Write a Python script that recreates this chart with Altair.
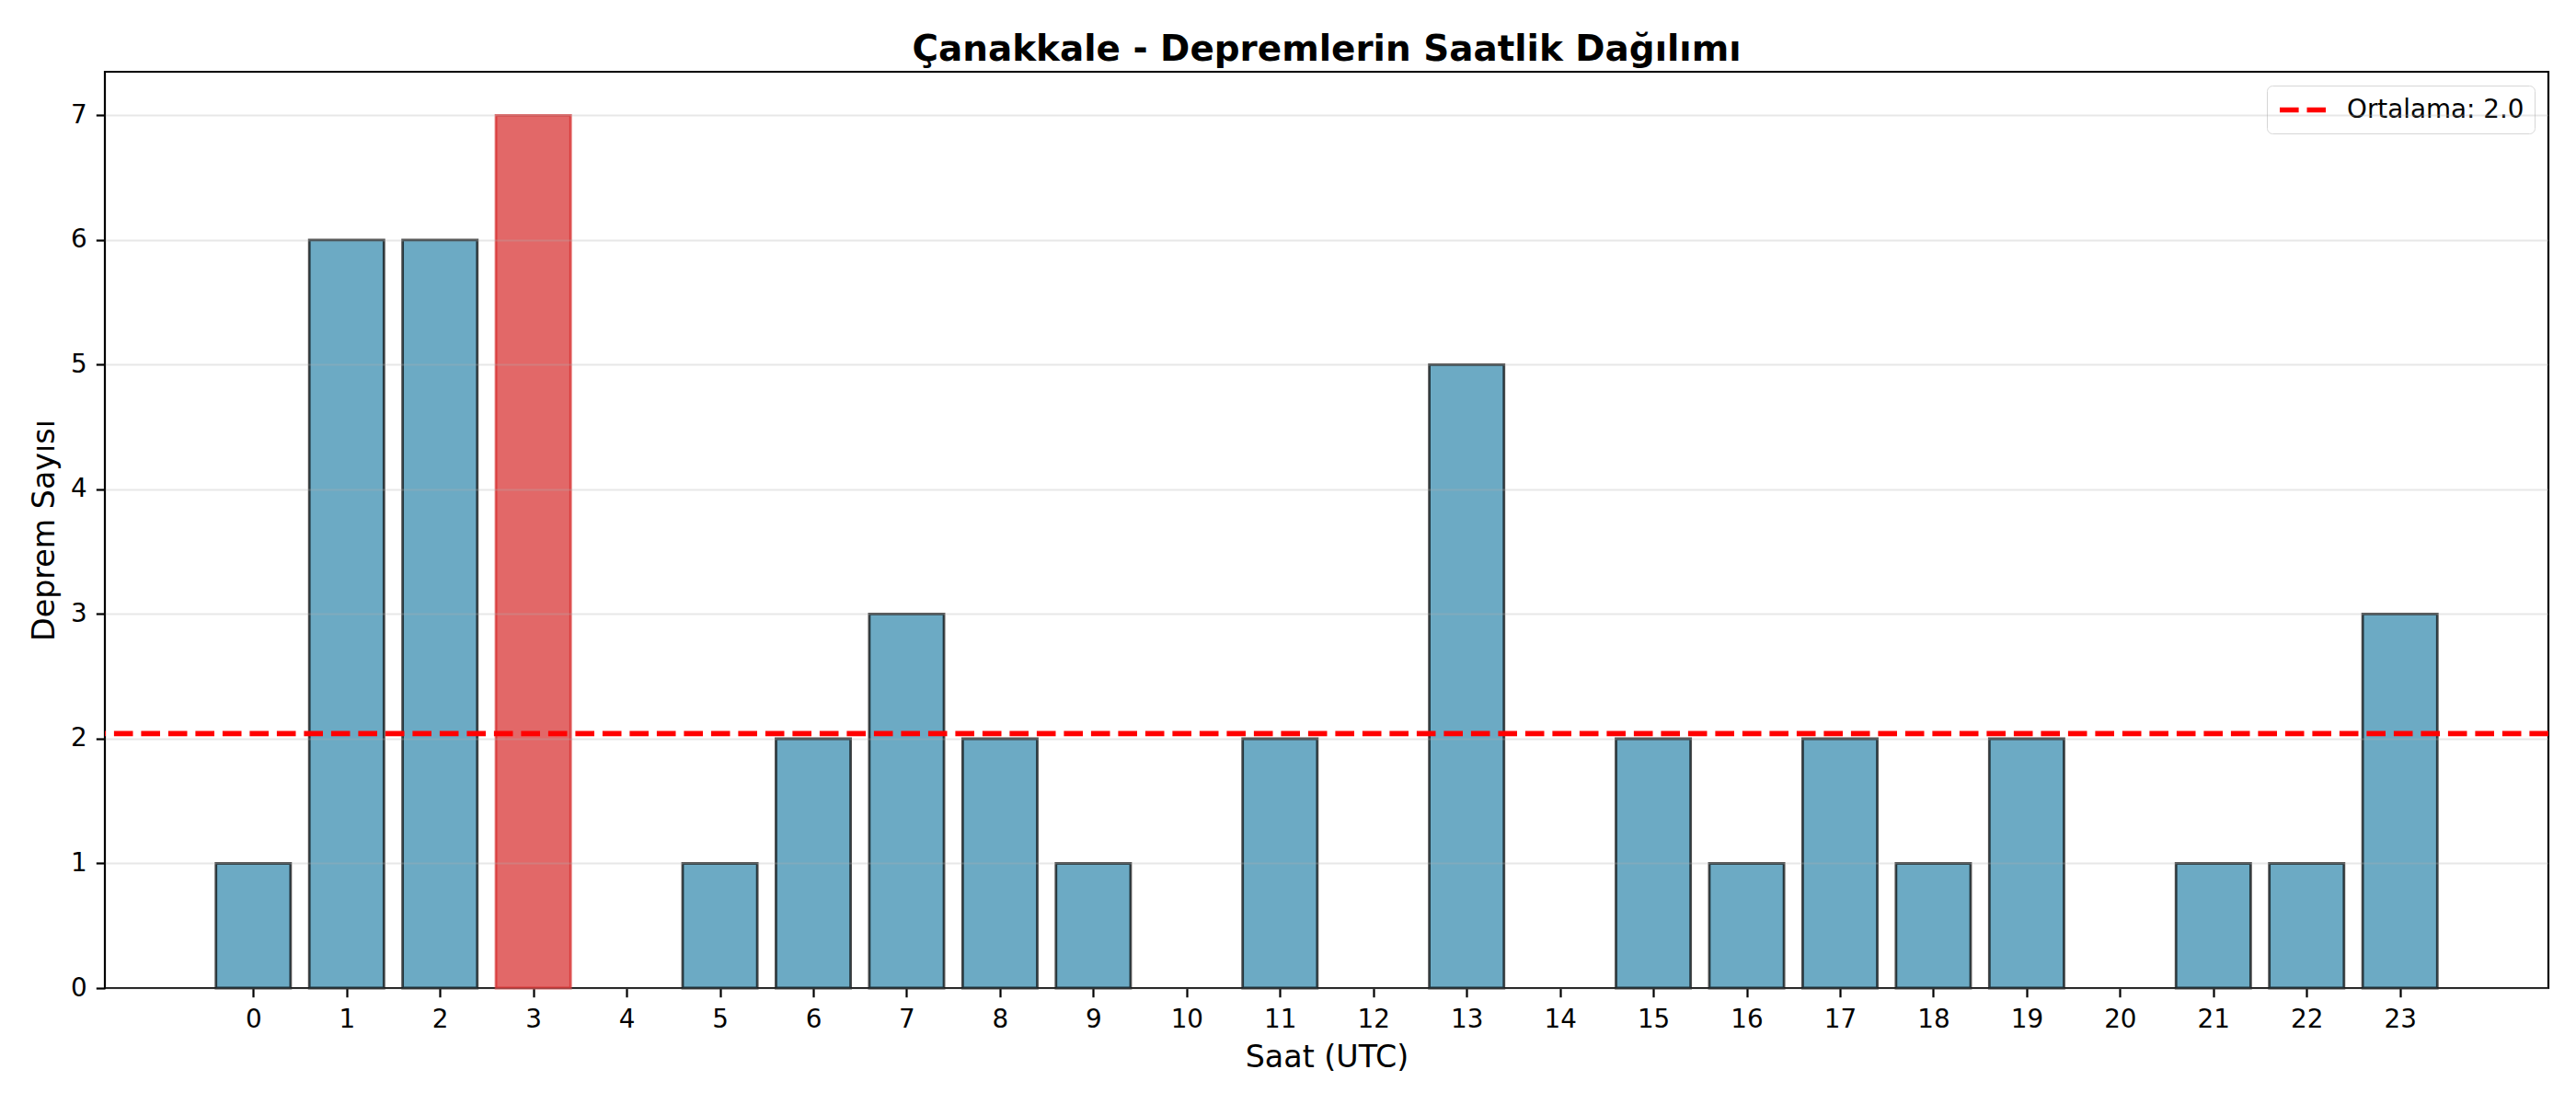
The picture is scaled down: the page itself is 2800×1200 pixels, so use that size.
""" Çanakkale depremlerinin saatlik dağılımı - Altair bar chart """

import pandas as pd
import altair as alt

# Saat (UTC) ve deprem sayıları
hours = list(range(24))
counts = [1, 6, 6, 7, 0, 1, 2, 3, 2, 1, 0, 2, 0, 5, 0, 2, 1, 2, 1, 2, 0, 1, 1, 3]
tick_hours = list(range(24))
y_ticks = [0, 1, 2, 3, 4, 5, 6, 7]

BLUE = "#2E86AB"
RED = "#D62828"
FONT = "DejaVu Sans"

peak = max(counts)
bars_df = pd.DataFrame({"saat": hours, "sayi": counts})
bars_df["durum"] = ["zirve" if c == peak else "normal" for c in counts]

mean_value = sum(counts) / len(counts)
mean_label = f"Ortalama: {mean_value:.1f}"
mean_df = pd.DataFrame({"ortalama": [mean_value], "etiket": [mean_label]})

x_scale = alt.Scale(domain=[-1.59, 24.59], nice=False, zero=False)
y_scale = alt.Scale(domain=[0, 7.35], nice=False)

bars = (
    alt.Chart(bars_df)
    .transform_filter("datum.sayi > 0")
    .transform_calculate(x0="datum.saat - 0.4", x1="datum.saat + 0.4")
    .mark_bar(fillOpacity=0.7, strokeOpacity=0.7, strokeWidth=2.8)
    .encode(
        alt.X(
            "x0:Q",
            scale=x_scale,
            title="Saat (UTC)",
            axis=alt.Axis(
                values=tick_hours,
                format="d",
                grid=False,
                labelFlush=False,
                labelOverlap=False,
                labelBaseline="alphabetic",
                labelPadding=33,
                titleBaseline="alphabetic",
                titleY=85,
            ),
        ),
        x2="x1:Q",
        y=alt.Y(
            "sayi:Q",
            scale=y_scale,
            title="Deprem Sayısı",
            axis=alt.Axis(
                values=y_ticks,
                format="d",
                grid=True,
                gridColor="#b0b0b0",
                gridOpacity=0.3,
                gridWidth=2.2,
                labelPadding=10,
                titleBaseline="alphabetic",
                titleX=-56,
                zindex=1,
            ),
        ),
        y2=alt.datum(0),
        fill=alt.Fill(
            "durum:N",
            scale=alt.Scale(domain=["normal", "zirve"], range=[BLUE, RED]),
            legend=None,
        ),
        stroke=alt.Stroke(
            "durum:N",
            scale=alt.Scale(domain=["normal", "zirve"], range=["#000000", RED]),
            legend=None,
        ),
    )
)

mean_line = (
    alt.Chart(mean_df)
    .mark_rule(strokeWidth=5.6, strokeDash=[20.6, 8.9])
    .encode(
        y=alt.Y("ortalama:Q", scale=y_scale),
        color=alt.Color(
            "etiket:N",
            scale=alt.Scale(domain=[mean_label], range=["#ff0000"]),
            legend=alt.Legend(
                title=None,
                orient="none",
                legendX=2350,
                legendY=15,
                symbolType="M-1,0H3",
                symbolSize=625,
                symbolStrokeWidth=5.6,
                symbolDash=[20.6, 8.9],
                labelOffset=45,
                labelLimit=0,
                labelFontSize=27.8,
                labelFont=FONT,
                labelColor="black",
                fillColor="white",
                strokeColor="#d6d6d6",
                cornerRadius=6,
                padding=11,
            ),
        ),
    )
)

chart = (
    alt.layer(bars, mean_line)
    .resolve_scale(color="independent")
    .properties(
        width=2656,
        height=996,
        autosize=alt.AutoSizeParams(type="none"),
        padding={"left": 106, "top": 70, "right": 22, "bottom": 118},
        title=alt.TitleParams(
            "Çanakkale - Depremlerin Saatlik Dağılımı",
            font=FONT,
            fontSize=38.9,
            fontWeight="bold",
            color="black",
            baseline="alphabetic",
            offset=-27,
        ),
    )
    .configure_view(stroke="black", strokeWidth=2.2)
    .configure_axis(
        domain=False,
        labelFont=FONT,
        labelFontSize=27.8,
        labelColor="black",
        titleFont=FONT,
        titleFontSize=33.3,
        titleFontWeight="normal",
        titleColor="black",
        tickColor="black",
        tickWidth=2.2,
        tickSize=9.7,
    )
)

chart.save("out.html", embed_options={"renderer": "svg", "actions": False})
